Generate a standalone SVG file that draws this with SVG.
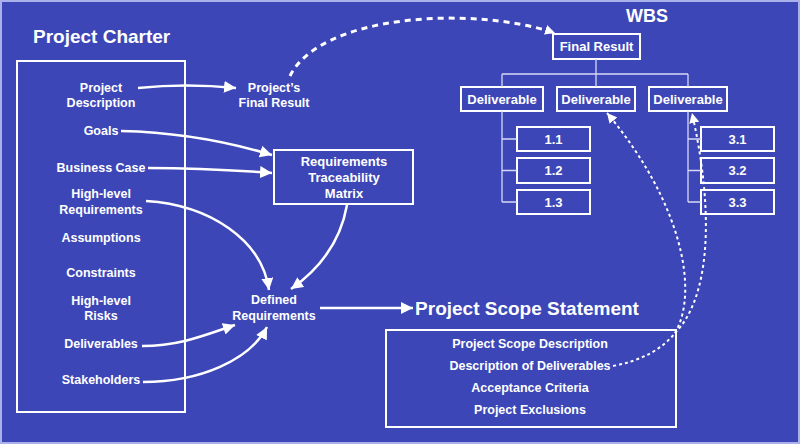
<svg xmlns="http://www.w3.org/2000/svg" width="800" height="444" viewBox="0 0 800 444">
<defs>
<style>
.t{font-family:"Liberation Sans",Arial,Helvetica,sans-serif;font-weight:bold;fill:#ffffff;text-anchor:middle}
.s{font-size:12.5px}
.m{font-size:13px}
.h{font-size:19px}
.box{fill:none;stroke:#ffffff;stroke-width:2}
.tree{fill:none;stroke:#d6d8f5;stroke-width:1.3}
.arr{fill:none;stroke:#ffffff;stroke-width:2.5;marker-end:url(#ah)}
.dash{fill:none;stroke:#ffffff;stroke-width:3;stroke-dasharray:6 5}
.dot{fill:none;stroke:#ffffff;stroke-width:2;stroke-dasharray:3 3}
</style>
<marker id="ah" markerUnits="userSpaceOnUse" markerWidth="14" markerHeight="12" refX="12" refY="6" orient="auto">
<path d="M0,0 L12,6 L0,12 Z" fill="#ffffff"/>
</marker>
<marker id="ahs" markerUnits="userSpaceOnUse" markerWidth="12" markerHeight="10" refX="10" refY="5" orient="auto">
<path d="M0,0 L10,5 L0,10 Z" fill="#ffffff"/>
</marker>
</defs>
<rect x="0" y="0" width="800" height="444" fill="#3c46b7"/>
<rect x="1" y="1" width="798" height="442" fill="none" stroke="#aab0ea" stroke-width="2"/>

<g id="charter">
<text class="t h" x="33" y="43" text-anchor="start" style="text-anchor:start">Project Charter</text>
<rect class="box" x="17" y="61" width="168" height="351"/>
<text class="t s" x="101" y="92">Project</text>
<text class="t s" x="101" y="107">Description</text>
<text class="t s" x="101" y="135">Goals</text>
<text class="t s" x="101" y="172">Business Case</text>
<text class="t s" x="101" y="198">High-level</text>
<text class="t s" x="101" y="214">Requirements</text>
<text class="t s" x="101" y="242">Assumptions</text>
<text class="t s" x="101" y="277">Constraints</text>
<text class="t s" x="101" y="305">High-level</text>
<text class="t s" x="101" y="320">Risks</text>
<text class="t s" x="101" y="348">Deliverables</text>
<text class="t s" x="101" y="384">Stakeholders</text>
</g>

<g id="final-result-label">
<text class="t s" x="274" y="92">Project’s</text>
<text class="t s" x="274" y="107">Final Result</text>
</g>

<g id="rtm">
<rect class="box" x="274" y="150" width="139" height="54"/>
<text class="t m" x="344" y="166">Requirements</text>
<text class="t m" x="344" y="182">Traceability</text>
<text class="t m" x="344" y="198">Matrix</text>
</g>

<g id="defined-requirements">
<text class="t s" x="274" y="304">Defined</text>
<text class="t s" x="274" y="320">Requirements</text>
</g>

<g id="scope-statement">
<text class="t h" x="527" y="315">Project Scope Statement</text>
<rect class="box" x="386" y="330" width="290" height="97"/>
<text class="t s" x="530" y="348">Project Scope Description</text>
<text class="t s" x="530" y="370">Description of Deliverables</text>
<text class="t s" x="530" y="392">Acceptance Criteria</text>
<text class="t s" x="530" y="414">Project Exclusions</text>
</g>

<g id="wbs">
<text class="t" x="647" y="22" style="font-size:18px">WBS</text>
<g id="wbs-final"><rect class="box" x="553" y="34" width="87" height="25"/><text class="t m" x="596.5" y="51">Final Result</text></g>
<g id="wbs-d1"><rect class="box" x="461" y="87" width="82" height="24"/><text class="t m" x="502" y="104">Deliverable</text></g>
<g id="wbs-d2"><rect class="box" x="557" y="87" width="78" height="24"/><text class="t m" x="596" y="104">Deliverable</text></g>
<g id="wbs-d3"><rect class="box" x="649" y="87" width="78" height="24"/><text class="t m" x="688" y="104">Deliverable</text></g>
<g id="wbs-11"><rect class="box" x="517" y="127" width="73" height="24"/><text class="t m" x="553.5" y="144">1.1</text></g>
<g id="wbs-12"><rect class="box" x="517" y="158" width="73" height="25"/><text class="t m" x="553.5" y="175">1.2</text></g>
<g id="wbs-13"><rect class="box" x="517" y="190" width="73" height="24"/><text class="t m" x="553.5" y="207">1.3</text></g>
<g id="wbs-31"><rect class="box" x="701" y="127" width="73" height="24"/><text class="t m" x="737.5" y="144">3.1</text></g>
<g id="wbs-32"><rect class="box" x="701" y="158" width="73" height="25"/><text class="t m" x="737.5" y="175">3.2</text></g>
<g id="wbs-33"><rect class="box" x="701" y="190" width="73" height="24"/><text class="t m" x="737.5" y="207">3.3</text></g>
</g>

<g id="connectors">
<path class="tree" d="M596,59 V74 M502,74 H688 M502,74 V87 M596,74 V87 M688,74 V87"/>
<path class="tree" d="M502,111 V202 M502,139 H517 M502,170.5 H517 M502,202 H517"/>
<path class="tree" d="M688,111 V202 M688,139 H701 M688,170.5 H701 M688,202 H701"/>

<path class="arr" d="M138,88 Q 186,83 236,88"/>
<path class="arr" d="M121,131 C 170,132 222,140 272,155"/>
<path class="arr" d="M148,168 C 190,168 232,170 272,173"/>
<path class="arr" d="M146,201 C 210,205 262,240 269,290"/>
<path class="arr" d="M347,205 Q 338,256 291,289"/>
<path class="arr" d="M142,346 C 180,346 205,335 235,325"/>
<path class="arr" d="M143,382 C 200,382 250,360 267,327"/>
<path class="arr" d="M320,308 L413,308"/>

<path class="dash" d="M290,76 C 320,15 470,5 555,33" marker-end="url(#ahs)"/>
<path class="dot" d="M613,366 Q 655,358 675,333"/>
<path class="dot" d="M675,333 C 700,290 680,200 607,113" marker-end="url(#ahs)"/>
<path class="dot" d="M675,333 C 708,300 716,220 692,113" marker-end="url(#ahs)"/>
</g>
</svg>
